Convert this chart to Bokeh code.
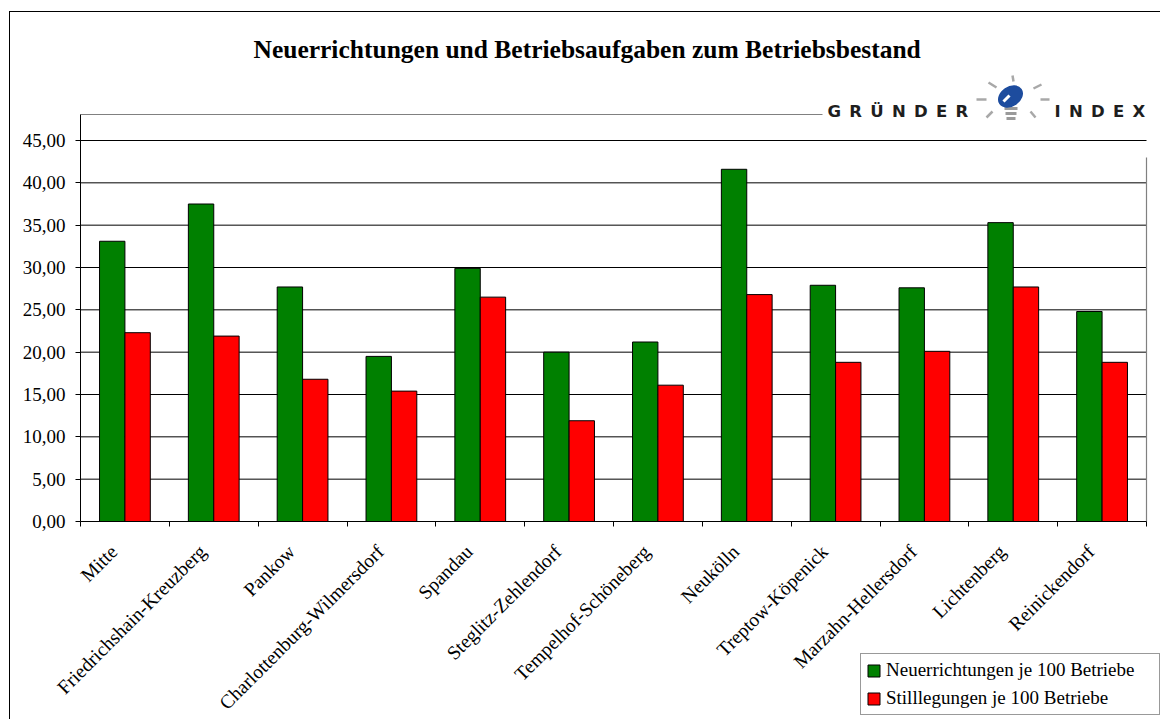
import math
import numpy as np
from bokeh.plotting import figure
from bokeh.models import ColumnDataSource, FixedTicker, Range1d, Legend, LegendItem
from bokeh.transform import dodge
from bokeh.core.properties import value
from bokeh.embed import file_html
from bokeh.resources import INLINE

# ---------------- data ----------------
chart_title = "Neuerrichtungen und Betriebsaufgaben zum Betriebsbestand"
districts = ["Mitte", "Friedrichshain-Kreuzberg", "Pankow", "Charlottenburg-Wilmersdorf",
             "Spandau", "Steglitz-Zehlendorf", "Tempelhof-Schöneberg", "Neukölln",
             "Treptow-Köpenick", "Marzahn-Hellersdorf", "Lichtenberg", "Reinickendorf"]
neuerrichtungen = [33.1, 37.5, 27.7, 19.5, 29.9, 20.0, 21.2, 41.6, 27.9, 27.6, 35.3, 24.8]
stilllegungen = [22.3, 21.9, 16.8, 15.4, 26.5, 11.9, 16.1, 26.8, 18.8, 20.1, 27.7, 18.8]
series_names = ["Neuerrichtungen je 100 Betriebe", "Stilllegungen je 100 Betriebe"]
y_ticks = [0, 5, 10, 15, 20, 25, 30, 35, 40, 45]
y_tick_labels = [f"{t:.2f}".replace(".", ",") for t in y_ticks]

# ---------------- layout (page pixels) ----------------
OX, OY = 10, 12            # top-left of the figure canvas on the page
FRAME_L, FRAME_R = OX, 1160
FRAME_T, FRAME_B = 70, 719
AXIS_X_PX = 80             # pixel column of the value axis
AXIS_Y_PX = 521            # pixel row of the value 0
PX_PER_UNIT = (521 - 140) / 45.0
PX_PER_CAT = (1146 - 80) / 12.0
PLOT_AREA_TOP_PX = 114
LABEL_SHIFT = 11 / PX_PER_CAT   # category labels sit slightly left of the centre

n = len(districts)
x_first = -0.5
x_last = n - 0.5
x_start = x_first - (AXIS_X_PX - FRAME_L) / PX_PER_CAT
x_end = x_first + (FRAME_R - AXIS_X_PX) / PX_PER_CAT
y_start = -(FRAME_B - AXIS_Y_PX) / PX_PER_UNIT
y_end = (AXIS_Y_PX - FRAME_T) / PX_PER_UNIT
plot_top = (AXIS_Y_PX - PLOT_AREA_TOP_PX) / PX_PER_UNIT
BAR_W = 1 / 3.5


def X(px):
    return x_first + (px - AXIS_X_PX) / PX_PER_CAT


def Y(py):
    return (AXIS_Y_PX - py) / PX_PER_UNIT


SERIF = "Liberation Serif"

p = figure(frame_width=FRAME_R - FRAME_L, frame_height=FRAME_B - FRAME_T,
           min_border_left=0, min_border_top=FRAME_T - OY,
           min_border_right=0, min_border_bottom=0,
           x_range=Range1d(x_start, x_end), y_range=Range1d(y_start, y_end),
           toolbar_location=None, output_backend="svg", title=chart_title,
           styles={"border-top": "1px solid black", "border-left": "1px solid black"},
           margin=(OY - 1, 0, 0, OX - 1))
p.background_fill_color = "white"
p.border_fill_color = "white"
p.outline_line_color = None

p.title.text_font = SERIF
p.title.text_font_size = "25.5px"
p.title.text_font_style = "bold"
p.title.text_color = "black"
p.title.align = "left"
p.title.offset = 253 - FRAME_L
p.title.standoff = 14

src = ColumnDataSource(dict(idx=np.arange(n), district=districts,
                            neu=neuerrichtungen, still=stilllegungen))

# horizontal grid lines (limited to the plot area)
grid_vals = y_ticks[1:]
p.segment(x0=[x_first] * len(grid_vals), x1=[x_last] * len(grid_vals),
          y0=grid_vals, y1=grid_vals, line_color="black", line_width=1)

r1 = p.vbar(x=dodge("idx", -BAR_W / 2, range=p.x_range), top="neu", width=BAR_W, source=src,
            fill_color="#008000", line_color="black", line_width=1)
r2 = p.vbar(x=dodge("idx", BAR_W / 2, range=p.x_range), top="still", width=BAR_W, source=src,
            fill_color="#FF0000", line_color="black", line_width=1)

# x axis (drawn at value 0 inside the frame)
label_pos = [i - LABEL_SHIFT for i in range(n)]
xa = p.xaxis[0]
xa.fixed_location = 0
xa.ticker = FixedTicker(ticks=label_pos, minor_ticks=[i - 0.5 for i in range(n + 1)])
xa.major_label_overrides = {pos: d for pos, d in zip(label_pos, districts)}
xa.major_tick_line_color = None
xa.major_tick_out = 5
xa.major_tick_in = 0
xa.minor_tick_line_color = "black"
xa.minor_tick_out = 5
xa.minor_tick_in = 0
xa.major_label_orientation = math.pi / 4
xa.major_label_text_font = SERIF
xa.major_label_text_font_size = "19.5px"
xa.major_label_text_color = "black"
xa.major_label_standoff = 22
xa.axis_line_color = "black"
xa.bounds = (x_first, x_last)

# y axis (drawn at the left edge of the plot area inside the frame)
ya = p.yaxis[0]
ya.fixed_location = x_first
ya.ticker = FixedTicker(ticks=y_ticks)
ya.major_label_overrides = dict(zip(y_ticks, y_tick_labels))
ya.bounds = (0, plot_top)
ya.minor_tick_line_color = None
ya.major_tick_out = 5
ya.major_tick_in = 0
ya.major_tick_line_color = "black"
ya.axis_line_color = "black"
ya.major_label_text_font = SERIF
ya.major_label_text_font_size = "19px"
ya.major_label_text_color = "black"
ya.major_label_standoff = 10

p.xgrid.visible = False
p.ygrid.visible = False

# plot-area border (grey, top and right)
p.segment(x0=[x_first, x_last], y0=[plot_top, 0],
          x1=[X(822), x_last], y1=[plot_top, Y(157)],
          line_color="#808080", line_width=1.2)

# ---------------- logo "GRÜNDER INDEX" ----------------
sp = "\u2002"
p.text(x=[X(827), X(1054)], y=[Y(111), Y(111)],
       text=[sp.join("GRÜNDER"), sp.join("INDEX")],
       text_font=value("DejaVu Sans"), text_font_style="bold", text_font_size="16.5px",
       text_color="#1e1e1e", text_align="left", text_baseline="alphabetic")
# rays
p.segment(x0=[X(988), X(1012), X(1033), X(976), X(1040), X(986), X(1030)],
          y0=[Y(82), Y(75), Y(88), Y(99), Y(99), Y(117), Y(111)],
          x1=[X(996), X(1013), X(1041), X(986), X(1049), X(992), X(1035)],
          y1=[Y(87), Y(81), Y(84), Y(99), Y(99), Y(111), Y(117)],
          line_color="#a8a8a8", line_width=2.5)
# bulb base
p.segment(x0=[X(1004), X(1005), X(1006)], y0=[Y(108), Y(113), Y(118)],
          x1=[X(1017), X(1016), X(1015)], y1=[Y(108), Y(113), Y(118)],
          line_color="#9a9a9a", line_width=3)
# bulb
p.ellipse(x=[X(1010)], y=[Y(96)], width=27, height=20, width_units="screen",
          height_units="screen", angle=0.6, fill_color="#1d4c9e", line_color=None)
p.segment(x0=[X(1003)], y0=[Y(101)], x1=[X(1009)], y1=[Y(95)],
          line_color="white", line_width=3)

# ---------------- legend ----------------
legend = Legend(items=[LegendItem(label=series_names[0], renderers=[r1]),
                       LegendItem(label=series_names[1], renderers=[r2])],
                location=(860 - FRAME_L, FRAME_B - 715))
legend.label_text_font = SERIF
legend.label_text_font_size = "19px"
legend.label_text_color = "black"
legend.glyph_width = 15
legend.glyph_height = 15
legend.padding = 5
legend.spacing = 6
legend.margin = 0
legend.label_standoff = 5
legend.label_height = 22
legend.label_width = 268
legend.border_line_color = "#333333"
legend.border_line_width = 1
legend.background_fill_color = "white"
legend.background_fill_alpha = 1
p.add_layout(legend, "center")

open("out.html", "w").write(file_html(p, INLINE))
